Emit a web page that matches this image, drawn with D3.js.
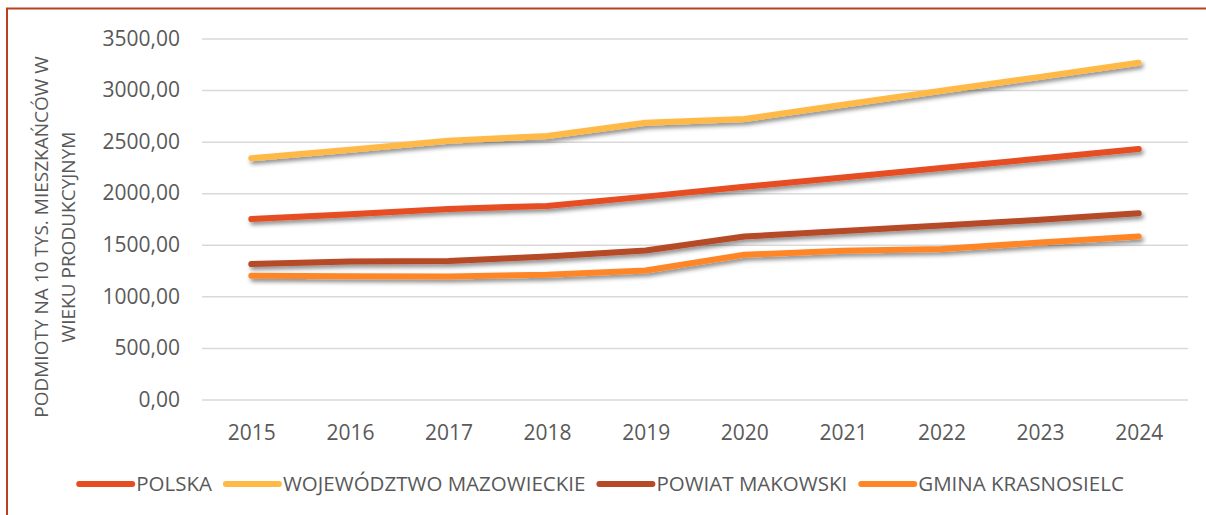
<!DOCTYPE html>
<html>
<head>
<meta charset="utf-8">
<script src="https://cdn.jsdelivr.net/npm/d3@7"></script>
<style>
  body { margin: 0; background: #fff; }
  svg  { display: block; font-family: "Open Sans", sans-serif; }
  .axis text { fill: #595959; }
  .grid line { stroke: #d9d9d9; stroke-width: 1.5px; }
</style>
</head>
<body>
<svg width="1206" height="515"></svg>
<script>
const YEARS       = [2015, 2016, 2017, 2018, 2019, 2020, 2021, 2022, 2023, 2024];
const Y_TICKS     = [0, 500, 1000, 1500, 2000, 2500, 3000, 3500];
const SERIES_NAME = ["POLSKA", "WOJEWÓDZTWO MAZOWIECKIE", "POWIAT MAKOWSKI", "GMINA KRASNOSIELC"];
const COLORS      = ["#e64d22", "#ffb946", "#b64a26", "#ff8628"];

const POLSKA      = [1749, 1797, 1848, 1877, 1967, 2062, 2152, 2245, 2336, 2429];
const MAZOWIECKIE = [2339, 2422, 2509, 2555, 2683, 2719, 2858, 2993, 3128, 3264];
const MAKOWSKI    = [1313, 1338, 1342, 1387, 1445, 1580, 1634, 1686, 1742, 1806];
const KRASNOSIELC = [1200, 1196, 1193, 1210, 1251, 1403, 1442, 1460, 1522, 1580];

const VALUES      = [POLSKA, MAZOWIECKIE, MAKOWSKI, KRASNOSIELC];

drawChart();

function drawChart() {
  let svg    = d3.select("svg"),
      x      = d3.scalePoint()
                 .domain(YEARS)
                 .range([202, 1188])
                 .padding(0.5),
      y      = d3.scaleLinear()
                 .domain([0, 3500])
                 .range([399.5, 38.5]),
      fmt    = d => d3.format(".2f")(d).replace(".", ",");

  // frame
  svg.append("path")
    .attr("d", "M7,520 V8.5 H1210")
    .attr("fill", "none")
    .attr("stroke", "#b8401f")
    .attr("stroke-width", 2);

  let defs = svg.append("defs");
  defs.append("filter")
      .attr("id", "shadow")
      .attr("x", "-10%").attr("y", "-50%")
      .attr("width", "120%").attr("height", "200%")
    .append("feDropShadow")
      .attr("dx", 2)
      .attr("dy", 3)
      .attr("stdDeviation", 2)
      .attr("flood-color", "#000")
      .attr("flood-opacity", 0.45);

  svg.append("g")
    .attr("class", "grid")
    .attr("transform", "translate(202,0)")
    .call(d3.axisLeft(y).tickValues(Y_TICKS).tickSize(-986).tickFormat(""))
    .call(g => g.select(".domain").remove());

  svg.append("g")
    .attr("class", "axis")
    .attr("transform", "translate(180,0)")
    .call(d3.axisLeft(y).tickValues(Y_TICKS).tickSize(0).tickPadding(0).tickFormat(fmt))
    .call(g => g.select(".domain").remove())
    .selectAll("text")
      .attr("font-size", 21)
      .attr("font-family", "Open Sans");

  svg.append("g")
    .attr("class", "axis")
    .attr("transform", "translate(0,399.5)")
    .call(d3.axisBottom(x).tickSize(0).tickPadding(0))
    .call(g => g.select(".domain").remove())
    .selectAll("text")
      .attr("font-size", 21)
      .attr("font-family", "Open Sans")
      .attr("dy", null)
      .attr("y", 40);

  let title = svg.append("text")
    .attr("transform", "translate(0,237) rotate(-90)")
    .attr("text-anchor", "middle")
    .attr("fill", "#595959")
    .attr("font-size", 19);
  title.append("tspan").attr("x", 0).attr("y", 48).text("PODMIOTY NA 10 TYS. MIESZKAŃCÓW W");
  title.append("tspan").attr("x", 0).attr("y", 75).text("WIEKU PRODUKCYJNYM");

  let line = d3.line()
    .x((d, i) => x(YEARS[i]))
    .y(d => y(d));

  svg.append("g")
    .selectAll("path")
    .data(VALUES)
    .join("path")
      .attr("d", line)
      .attr("fill", "none")
      .attr("stroke", (d, i) => COLORS[i])
      .attr("stroke-width", 6)
      .attr("stroke-linecap", "round")
      .attr("stroke-linejoin", "round")
      .attr("filter", "url(#shadow)");

  drawLegend(svg);
}

function drawLegend(svg) {
  let legend = svg.append("g"),
      ly     = 484,
      items  = legend.selectAll("g")
                 .data(SERIES_NAME)
                 .join("g");

  items.append("line")
    .attr("x1", 3).attr("x2", 56)
    .attr("y1", ly).attr("y2", ly)
    .attr("stroke", (d, i) => COLORS[i])
    .attr("stroke-width", 6)
    .attr("stroke-linecap", "round");

  items.append("text")
    .attr("x", 60)
    .attr("y", ly)
    .attr("dy", "0.35em")
    .attr("fill", "#595959")
    .attr("font-size", 20.5)
    .text(d => d);

  let offsets = [], pos = 0;
  items.each(function() {
    offsets.push(pos);
    pos += 60 + this.querySelector("text").getComputedTextLength() + 11;
  });
  let start = 600 - (pos - 11) / 2;
  items.attr("transform", (d, i) => `translate(${start + offsets[i]},0)`);
}
</script>
</body>
</html>
